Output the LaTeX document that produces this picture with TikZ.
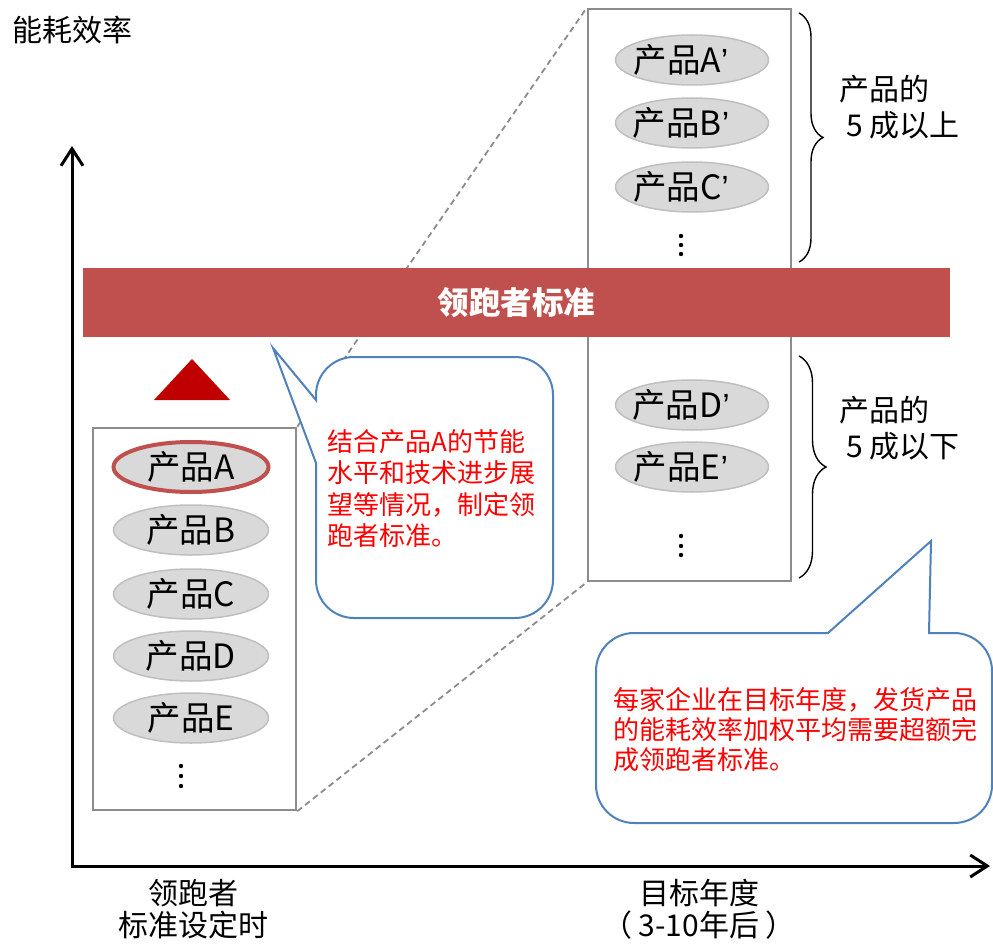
\documentclass[tikz,border=0pt]{standalone}
\usepackage{fontspec}
\setmainfont{Noto Sans CJK SC}
\newfontfamily\latfont{Liberation Sans}
\usetikzlibrary{arrows.meta,decorations.pathreplacing,shapes.geometric}
\definecolor{barred}{HTML}{C0504D}
\definecolor{trired}{HTML}{C00000}
\definecolor{callblue}{HTML}{4F81BD}
\definecolor{ellfill}{HTML}{D9D9D9}
\definecolor{ellline}{HTML}{BFBFBF}
\definecolor{boxgray}{HTML}{8C8C8C}
\definecolor{txtred}{HTML}{FF0000}
\newcommand{\pr}{{\latfont ’}\hspace*{22pt}}
\begin{document}
\begin{tikzpicture}[x=1pt,y=1pt,
  lbl/.style={font=\fontsize{30}{36}\selectfont, inner sep=0pt},
  botlbl/.style={font=\fontsize{30}{32}\selectfont, inner sep=0pt, align=center},
  prod/.style={ellipse, draw=ellline, fill=ellfill, line width=1.5pt, minimum width=155pt, minimum height=50pt, inner sep=0pt, font=\fontsize{33.5}{36}\selectfont},
  rprod/.style={prod, minimum width=153pt, inner xsep=-14pt},
  prodsel/.style={prod, draw=barred, line width=4pt},
  listbox/.style={draw=boxgray, line width=2.5pt, fill=white, inner sep=0pt},
  dashline/.style={draw=boxgray, line width=1.8pt, dash pattern=on 6pt off 4pt},
  axisline/.style={line width=3pt, line join=miter},
  callout/.style={draw=callblue, line width=2pt, fill=white, line join=miter},
  redtxt/.style={font=\fontsize{26}{31.5}\selectfont, text=txtred, align=left, inner sep=0pt},
  bracestyle/.style={draw=black, line width=1.4pt, decorate},
  dot/.style={fill=black}
]
\useasboundingbox (0,0) rectangle (993,-944);

% axes
\coordinate (ytop) at (72,-146);
\coordinate (O) at (72,-866);
\coordinate (xend) at (990,-866);
\draw[axisline, {Straight Barb[length=17pt,width=22pt]}-{Straight Barb[length=17pt,width=22pt]}] (ytop) -- (O) -- (xend);
\node[lbl, anchor=west] (ylab) at (12,-30) {能耗效率};

% boxes
\node[listbox, minimum width=203pt, minimum height=382pt] (lbox) at (194.5,-619) {};
\node[listbox, minimum width=203pt, minimum height=572pt] (rbox) at (689.5,-295) {};

% dashed connectors
\draw[dashline] (lbox.north east) -- (rbox.north west);
\draw[dashline] (lbox.south east) -- (rbox.south west);

% left products
\node[prodsel] (pA) at (191,-467) {产品A};
\node[prod] (pB) at (191,-530) {产品B};
\node[prod] (pC) at (191,-594) {产品C};
\node[prod] (pD) at (191,-656) {产品D};
\node[prod] (pE) at (191,-718) {产品E};
\foreach \y in {766,776,786} \fill[dot] (181,-\y) circle (2.2pt);

% right products
\node[rprod] (qA) at (692,-60) {产品A\pr};
\node[rprod] (qB) at (692,-123) {产品B\pr};
\node[rprod] (qC) at (692,-187) {产品C\pr};
\node[rprod] (qD) at (692,-405) {产品D\pr};
\node[rprod] (qE) at (692,-467) {产品E\pr};
\foreach \y in {236,245,254} \fill[dot] (681,-\y) circle (2.2pt);
\foreach \y in {536,546,555} \fill[dot] (681,-\y) circle (2.2pt);

% bar
\node[fill=barred, minimum width=867pt, minimum height=69pt, inner sep=0pt, text=white, font=\fontsize{31.5}{36}\selectfont\bfseries] (bar) at (516.5,-302.5) {领跑者标准};

% triangle
\fill[trired] (154,-400) -- (192,-359) -- (230,-400) -- cycle;

% callout 1
\draw[callout] (316,-463) -- (316,-580) arc[start angle=180,end angle=270,radius=38]
  -- (515,-618) arc[start angle=270,end angle=360,radius=38]
  -- (553,-395) arc[start angle=0,end angle=90,radius=38]
  -- (354,-357) arc[start angle=90,end angle=180,radius=38]
  -- (316,-400) -- (273,-348) -- cycle;
\node[redtxt, anchor=north west] (t1) at (327,-429) {结合产品A的节能\\水平和技术进步展\\望等情况，制定领\\跑者标准。};

% callout 2
\draw[callout] (596,-673) -- (596,-785) arc[start angle=180,end angle=270,radius=38]
  -- (954,-823) arc[start angle=270,end angle=360,radius=38]
  -- (992,-671) arc[start angle=0,end angle=90,radius=38]
  -- (929,-633) -- (931,-541) -- (828,-633)
  -- (634,-633) arc[start angle=90,end angle=180,radius=38] -- cycle;
\node[redtxt, anchor=north west, font=\fontsize{26}{30}\selectfont] (t2) at (613,-687) {每家企业在目标年度，发货产品\\的能耗效率加权平均需要超额完\\成领跑者标准。};

% braces
\coordinate (b1s) at (799,-13);
\coordinate (b1e) at (799,-262);
\draw[bracestyle, decoration={brace,amplitude=24pt}] (b1s) -- (b1e);
\coordinate (b2s) at (799,-356);
\coordinate (b2e) at (799,-578);
\draw[bracestyle, decoration={brace,amplitude=27pt}] (b2s) -- (b2e);
\node[lbl, anchor=north west, align=left] (s1) at (839,-75) {产品的\\\hspace*{7pt}5 成以上};
\node[lbl, anchor=north west, align=left] (s2) at (839,-396) {产品的\\\hspace*{7pt}5 成以下};

% x labels
\node[botlbl] (xl1) at (193,-909) {领跑者\\标准设定时};
\node[botlbl] (xl2) at (699,-909) {目标年度\\（\hspace{6pt}3-10年后\hspace{6pt}）};
\end{tikzpicture}
\end{document}
